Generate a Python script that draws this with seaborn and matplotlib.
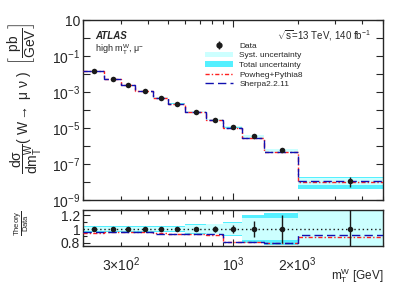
import numpy as np
import matplotlib
matplotlib.use('Agg')
import matplotlib.pyplot as plt
import matplotlib.ticker as mticker
from matplotlib.lines import Line2D
from matplotlib.patches import Patch
from matplotlib.container import ErrorbarContainer
from matplotlib.collections import LineCollection
import seaborn as sns

# mT^W bin edges [GeV]
edges = [200, 250, 300, 350, 425, 500, 600, 750, 900, 1100, 1400, 2000, 5000]
# measured cross section [pb/GeV]
xsec = [1.46e-2, 5.4e-3, 2.5e-3, 1.14e-3, 4.8e-4, 2.2e-4, 7.9e-5, 2.9e-5, 1.18e-5, 3.4e-6, 5.8e-7, 1.2e-8]
# relative uncertainties
stat_unc = [0.005, 0.006, 0.007, 0.008, 0.01, 0.012, 0.02, 0.04, 0.065, 0.115, 0.2, 0.55]
syst_unc = [0.03, 0.03, 0.03, 0.03, 0.035, 0.035, 0.06, 0.07, 0.09, 0.16, 0.16, 0.45]
tot_unc = [0.04, 0.04, 0.04, 0.04, 0.04, 0.045, 0.07, 0.08, 0.11, 0.2, 0.24, 0.65]
# theory / data
powheg_ratio = [0.945, 0.955, 0.955, 0.96, 0.935, 0.925, 0.92, 0.915, 0.815, 0.81, 0.79, 0.88]
sherpa_ratio = [0.96, 0.96, 0.96, 0.96, 0.93, 0.93, 0.92, 0.92, 0.81, 0.81, 0.79, 0.915]

sns.set_theme(style='ticks')
plt.rcParams['font.family'] = ['Liberation Sans', 'DejaVu Sans']
plt.rcParams['mathtext.fontset'] = 'custom'
plt.rcParams['mathtext.rm'] = 'Liberation Sans'
plt.rcParams['mathtext.it'] = 'Liberation Sans'
plt.rcParams['mathtext.bf'] = 'Liberation Sans:bold'

edges = np.array(edges, dtype=float)
xsec = np.array(xsec)
centers = 0.5 * (edges[:-1] + edges[1:])
stat = np.array(stat_unc)
syst = np.array(syst_unc)
tot = np.array(tot_unc)
powheg = np.array(powheg_ratio)
sherpa = np.array(sherpa_ratio)

syst_col = '#ccffff'
tot_col = '#55f0ff'
red = '#ff2020'
blue = '#1010b0'
pow_ls = (0, (3, 1.5, 1, 1.5))
she_ls = (0, (6, 3))

fig = plt.figure(figsize=(3.99, 2.86), dpi=100)
W, H = 399, 286
ax = fig.add_axes([83 / W, 1 - 200 / H, 300 / W, 180 / H])
rax = fig.add_axes([83 / W, 1 - 246 / H, 300 / W, 36 / H])

# main panel
ax.stairs(xsec * (1 + tot), edges, baseline=xsec * (1 - tot), fill=True, color=tot_col, lw=0, zorder=1)
ax.stairs(xsec * (1 + syst), edges, baseline=xsec * (1 - syst), fill=True, color=syst_col, lw=0, zorder=2)
ax.stairs(xsec * powheg, edges, color=red, lw=1.0, ls=pow_ls, zorder=3, baseline=None)
ax.stairs(xsec * sherpa, edges, color=blue, lw=1.0, ls=she_ls, zorder=4, baseline=None)
ax.errorbar(centers, xsec, yerr=xsec * stat, fmt='none', ecolor='k', elinewidth=1, zorder=5)
sns.scatterplot(x=centers, y=xsec, ax=ax, color='k', s=16, edgecolor='k', linewidth=0, zorder=6)

ax.set_xscale('log')
ax.set_yscale('log')
ax.set_xlim(200, 5000)
ax.set_ylim(1e-9, 10)

ax.yaxis.set_major_locator(mticker.FixedLocator([10.0 ** k for k in range(-9, 2)]))
ax.yaxis.set_minor_locator(mticker.NullLocator())


def ylab(v, pos):
    k = int(round(np.log10(v)))
    if k % 2 == 0:
        return ''
    if k == 1:
        return '10'
    return r'$10^{%d}$' % k


ax.yaxis.set_major_formatter(mticker.FuncFormatter(ylab))

xlabels = {300: r'$3{\times}10^{2}$', 1000: r'$10^{3}$', 2000: r'$2{\times}10^{3}$'}
for a in (ax, rax):
    a.xaxis.set_major_locator(mticker.FixedLocator([1000]))
    a.xaxis.set_minor_locator(mticker.FixedLocator([200, 300, 400, 500, 600, 700, 800, 900, 2000, 3000, 4000, 5000]))
    a.tick_params(which='both', direction='in', top=True, right=True, labelsize=10, pad=2, width=0.8)
    a.tick_params(which='major', length=5)
    a.tick_params(which='minor', length=3)
    for s in a.spines.values():
        s.set_linewidth(1.0)
ax.xaxis.set_major_formatter(mticker.NullFormatter())
ax.xaxis.set_minor_formatter(mticker.NullFormatter())

# ratio panel
ones = np.ones_like(xsec)
rax.stairs(1 + tot, edges, baseline=1 - tot, fill=True, color=tot_col, lw=0, zorder=1)
rax.stairs(1 + syst, edges, baseline=1 - syst, fill=True, color=syst_col, lw=0, zorder=2)
rax.axhline(1, color='k', ls=(0, (1, 2)), lw=1.0, zorder=3)
rax.stairs(powheg, edges, color=red, lw=1.0, ls=pow_ls, zorder=4, baseline=None)
rax.stairs(sherpa, edges, color=blue, lw=1.0, ls=she_ls, zorder=5, baseline=None)
rax.errorbar(centers, ones, yerr=stat, fmt='none', ecolor='k', elinewidth=1, zorder=6)
sns.scatterplot(x=centers, y=ones, ax=rax, color='k', s=16, edgecolor='k', linewidth=0, zorder=7)
rax.set_xscale('log')
rax.set_xlim(200, 5000)
rax.set_ylim(0.75, 1.28)
rax.yaxis.set_major_locator(mticker.FixedLocator([0.8, 1.0, 1.2]))
rax.yaxis.set_minor_locator(mticker.FixedLocator([0.9, 1.1]))
rax.yaxis.set_major_formatter(mticker.FuncFormatter(lambda v, p: {0.8: '0.8', 1.0: '1', 1.2: '1.2'}.get(round(v, 1), '')))
rax.xaxis.set_major_formatter(mticker.FuncFormatter(lambda v, p: xlabels.get(int(round(v)), '')))
rax.xaxis.set_minor_formatter(mticker.FuncFormatter(lambda v, p: xlabels.get(int(round(v)), '')))
rax.tick_params(axis='x', which='both', pad=7)
for a in (ax, rax):
    a.set_xlabel('')
    a.set_ylabel('')

# labels
fig.text(383 / W, 1 - 276 / H, r'$\mathrm{m}_{\mathrm{T}}^{\mathrm{W}}$ [GeV]', ha='right', va='center', fontsize=8.5)
fig.text(25 / W, 1 - 98 / H,
         r'$\dfrac{\mathrm{d}\sigma}{\mathrm{dm}_{\mathrm{T}}^{\mathrm{W}}}$( W$\rightarrow$ $\mu$ $\nu$ )  '
         r'$\left[\dfrac{\mathrm{pb}}{\mathrm{GeV}}\right]$',
         rotation=90, ha='center', va='center', fontsize=10)
fig.text(22 / W, 1 - 223 / H, r'$\dfrac{\mathrm{Theory}}{\mathrm{Data}}$', rotation=90, ha='center', va='center',
         fontsize=5.5)

fig.text(95 / W, 1 - 36 / H, 'ATLAS', fontsize=7, fontweight='bold', fontstyle='italic', va='center')
fig.text(95 / W, 1 - 50 / H, r'high m$_{\mathrm{T}}^{\mathrm{W}}$, $\mu^{-}$', fontsize=6.5, va='center')
fig.text(371 / W, 1 - 36 / H, r'$\sqrt{\mathrm{s}}$=13 TeV, 140 fb$^{-1}$', fontsize=7, ha='right', va='center')

# data legend handle with vertical error bar
data_marker = Line2D([], [], color='k', marker='o', ms=3.5, ls='none')
data_bar = LineCollection([], colors='k', linewidths=1)
data_handle = ErrorbarContainer((data_marker, (), (data_bar,)), has_xerr=False, has_yerr=True)

handles = [
    data_handle,
    Patch(facecolor=syst_col, edgecolor='none'),
    Patch(facecolor=tot_col, edgecolor='none'),
    Line2D([], [], color=red, lw=1.0, ls=pow_ls),
    Line2D([], [], color=blue, lw=1.0, ls=she_ls),
]
labels = ['Data', 'Syst. uncertainty', 'Total uncertainty', 'Powheg+Pythia8', 'Sherpa2.2.11']
fig.legend(handles, labels, loc='upper left', bbox_to_anchor=(205 / W, 1 - 42 / H), frameon=False,
           fontsize=6, borderpad=0, borderaxespad=0, handlelength=3.4, handleheight=0.6,
           handletextpad=0.7, labelspacing=0.25)

fig.savefig('out.png', dpi=100)
